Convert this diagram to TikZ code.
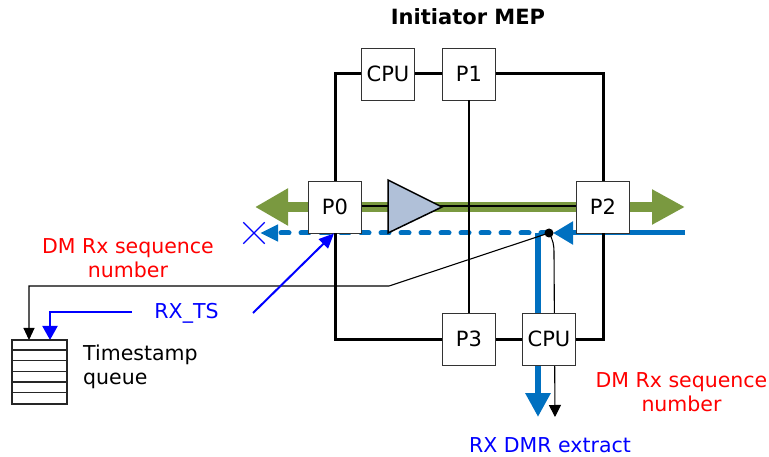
\documentclass[tikz,border=0pt]{standalone}
\usepackage{fontspec}
\setmainfont{DejaVu Sans}
\usetikzlibrary{arrows.meta,shapes.misc}
\definecolor{ggreen}{RGB}{122,153,64}
\definecolor{dblue}{RGB}{0,112,192}
\definecolor{ampfill}{RGB}{176,192,216}
\begin{document}
\begin{tikzpicture}[x=1pt,y=-1pt,
  box/.style={draw=black!80,line width=0.8pt,fill=white,minimum width=53pt,minimum height=52pt,inner sep=0pt,font=\fontsize{21}{24}\selectfont},
  frame/.style={line width=3pt},
  lbl/.style={font=\fontsize{20.5}{24}\selectfont,inner sep=0pt},
  garrow/.style={ggreen,line width=10pt,{Triangle[length=33pt,width=35pt]}-{Triangle[length=33pt,width=33pt]}},
  bthick/.style={dblue,line width=5pt},
  thinblk/.style={black,line width=1.1pt},
  bluearr/.style={blue,line width=2pt},
]
\useasboundingbox (0,0) rectangle (769,457);

% coordinates
\coordinate (J) at (549,233);
\coordinate (gL) at (255,207);
\coordinate (gR) at (685,207);
\coordinate (bL) at (260,233);
\coordinate (bR) at (685,233);
\coordinate (bvS) at (538,233);
\coordinate (bvE) at (538,417);
\coordinate (kS) at (554,252);
\coordinate (kE) at (555,417);
\coordinate (k1) at (389,286);
\coordinate (qa) at (29,340);
\coordinate (qb) at (50,340);
\coordinate (rxa) at (132,312);
\coordinate (pa) at (253,313);

% green bidirectional flow
\draw[garrow] (gL) -- (gR);

% blue vertical extract and black thin path from junction
\draw[dblue,line width=6pt,-{Triangle[length=24pt,width=24pt]}] (bvS) -- (bvE);
\draw[thinblk,-{Triangle[length=12pt,width=12pt]}] (J) .. controls (553,240) and (554,245) .. (kS) -- (kE);

% blue dotted (dropped) and solid incoming
\draw[bthick,line cap=round,dash pattern=on 8pt off 12pt,-{Triangle[length=18pt,width=16pt]}] (J) -- (bL);
\draw[bthick,-{Triangle[length=20pt,width=22pt]},shorten >=4pt] (bR) -- (J);

% boxes
\node[box] (cpuT) at (388,74) {CPU};
\node[box] (p1) at (469,74) {P1};
\node[box] (p0) at (335,207) {P0};
\node[box] (p2) at (603,207) {P2};
\node[box] (p3) at (469,339) {P3};
\node[box] (cpuB) at (549,339) {CPU};

% frame
\draw[frame] (p0.north) |- (cpuT.west);
\draw[frame] (cpuT.east) -- (p1.west);
\draw[frame] (p1.east) -| (p2.north);
\draw[frame] (p0.south) |- (p3.west);
\draw[frame] (p3.east) -- (cpuB.west);
\draw[frame] (cpuB.east) -| (p2.south);
\draw[line width=2pt] (p1.south) -- (p3.north);

% data path line and amplifier
\draw[line width=2.5pt] ([yshift=1pt]p0.east) -- ([yshift=1pt]p2.west);
\draw[line width=1.5pt,fill=ampfill,line join=miter] (388,180) coordinate (ampA) -- (442,207) coordinate (ampT) -- (388,233) coordinate (ampB) -- cycle;

% junction dot
\fill (J) circle (4.5pt);

% sequence number to queue
\draw[thinblk,-{Triangle[length=12pt,width=11pt]}] (J) -- (k1) -| (qa);

% RX_TS
\draw[bluearr,-{Triangle[length=14pt,width=15pt]}] (rxa) -| (qb);
\draw[bluearr,-{Triangle[length=15pt,width=13pt]}] (pa) -- ([xshift=-1pt]p0.south);

% drop mark
\node[cross out,draw=blue,line width=1.3pt,minimum size=20pt,inner sep=0pt] (xm) at (254,233) {};

% timestamp queue
\node[draw=black!85,line width=1.2pt,minimum width=55pt,minimum height=64pt,inner sep=0pt] (queue) at (39.5,372) {};
\foreach \k in {1,...,5}
  \draw[black!85,line width=1.2pt] ([yshift=-\k*10.667pt]queue.north west) -- ([yshift=-\k*10.667pt]queue.north east);

% texts
\node[font=\bfseries\fontsize{21}{24}\selectfont,anchor=base,inner sep=0pt] (title) at (468,25) {Initiator MEP};
\node[lbl,text=red,align=center,anchor=north] (dmL) at (128,238.2) {DM Rx sequence\\number};
\node[lbl,text=red,align=center,anchor=north] (dmR) at (681.5,372.2) {DM Rx sequence\\number};
\node[lbl,text=blue,anchor=base] (rxts) at (186.5,319) {RX\_TS};
\node[lbl,text=blue,anchor=base] (rxdmr) at (550,452) {RX DMR extract};
\node[lbl,align=left,anchor=north west] (tsq) at (83,344.5) {Timestamp\\queue};
\end{tikzpicture}
\end{document}
